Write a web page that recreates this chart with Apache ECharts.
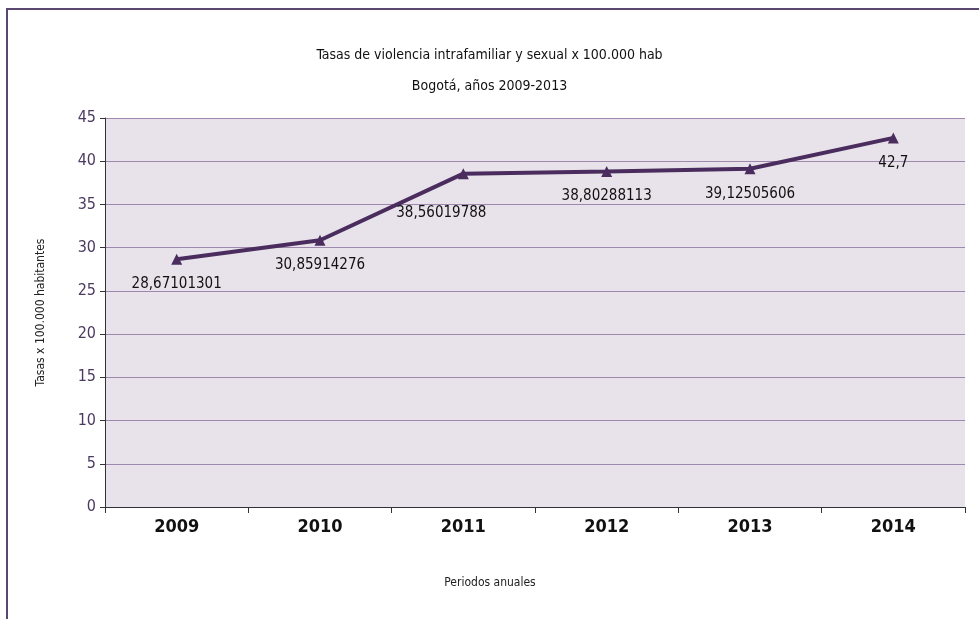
<!DOCTYPE html>
<html>
<head>
<meta charset="utf-8">
<script src="https://cdn.jsdelivr.net/npm/echarts@6/dist/echarts.min.js"></script>
<style>
  html, body { margin: 0; padding: 0; background: #fff; }
  #chart { width: 979px; height: 619px; }
</style>
</head>
<body>
<div id="chart"></div>
<script>
// datos
var years = ['2009', '2010', '2011', '2012', '2013', '2014'];
var rates = [28.67101301, 30.85914276, 38.56019788, 38.80288113, 39.12505606, 42.7];
var rateLabels = ['28,67101301', '30,85914276', '38,56019788', '38,80288113', '39,12505606', '42,7'];

var narrow = '"Liberation Sans Narrow", "DejaVu Sans Condensed", "Roboto Condensed", sans-serif';

// la etiqueta de 2011 está desplazada en el original
var seriesData = rates.map(function (v, i) {
    var item = { value: v };
    if (i === 2) item.label = { offset: [-22, 14] };
    return item;
});

var myChart = echarts.init(document.getElementById('chart'));
var option = {
    backgroundColor: '#fff',
    animation: false,
    title: [
        {
            text: 'Tasas de violencia intrafamiliar y sexual x 100.000 hab',
            left: 'center',
            top: 43,
            textStyle: { fontSize: 14, fontWeight: 'normal', color: '#111', fontFamily: narrow }
        },
        {
            text: 'Bogotá, años 2009-2013',
            left: 'center',
            top: 74,
            textStyle: { fontSize: 14, fontWeight: 'normal', color: '#111', fontFamily: narrow }
        }
    ],
    graphic: [
        {
            type: 'rect',
            shape: { x: 7, y: 9, width: 990, height: 640 },
            style: { fill: 'none', stroke: '#5b4870', lineWidth: 2 },
            silent: true
        }
    ],
    grid: {
        left: 105,
        right: 14,
        top: 118,
        bottom: 112,
        show: true,
        backgroundColor: '#e8e3ea',
        borderWidth: 0
    },
    xAxis: {
        type: 'category',
        data: years,
        boundaryGap: true,
        name: 'Periodos anuales',
        nameLocation: 'middle',
        nameGap: 70,
        nameTextStyle: { fontSize: 12, color: '#222', fontFamily: narrow, padding: [0, 90, 0, 0] },
        axisLine: { lineStyle: { color: '#333', width: 1 } },
        axisTick: { show: true, alignWithLabel: false, length: 6, lineStyle: { color: '#333' } },
        axisLabel: { fontSize: 18, fontWeight: 'bold', color: '#111', margin: 11, fontFamily: narrow }
    },
    yAxis: {
        type: 'value',
        min: 0,
        max: 45,
        interval: 5,
        name: 'Tasas x 100.000 habitantes',
        nameLocation: 'middle',
        nameGap: 58,
        nameRotate: 90,
        nameTextStyle: { fontSize: 12, color: '#222', fontFamily: narrow },
        axisLine: { show: true, lineStyle: { color: '#333', width: 1 } },
        axisTick: { show: true, inside: false, length: 5, lineStyle: { color: '#333' } },
        axisLabel: { fontSize: 16, color: '#4b3a60', margin: 9, fontFamily: narrow },
        splitLine: { lineStyle: { color: '#9e88ad', width: 1 } }
    },
    series: [
        {
            name: 'Tasa',
            type: 'line',
            data: seriesData,
            symbol: 'triangle',
            symbolSize: 11,
            lineStyle: { color: '#4a2d5e', width: 4 },
            itemStyle: { color: '#4a2d5e' },
            label: {
                show: true,
                position: 'bottom',
                distance: 12,
                fontSize: 15,
                color: '#111',
                fontFamily: narrow,
                formatter: function (p) { return rateLabels[p.dataIndex]; }
            }
        }
    ]
};
myChart.setOption(option);
</script>
</body>
</html>
